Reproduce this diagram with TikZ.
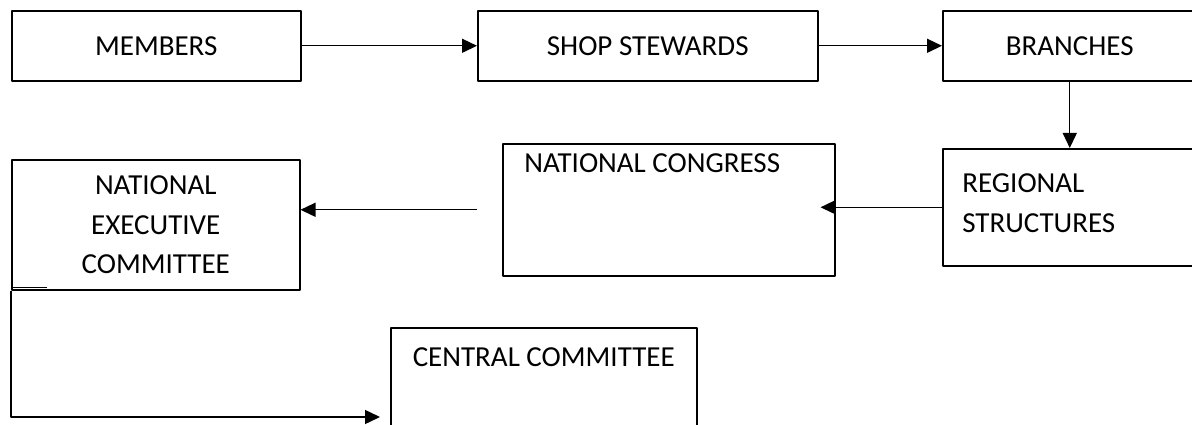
\documentclass[tikz,border=0pt]{standalone}
\usepackage{fontspec}
\setmainfont{Carlito}
\usetikzlibrary{arrows.meta}
\tikzset{
	box/.style={draw,line width=0.9pt,inner sep=0pt,anchor=north west,align=center,font=\fontsize{16.5pt}{22.5pt}\selectfont},
	tag/.style={inner sep=0pt,align=left,font=\fontsize{16.5pt}{22.5pt}\selectfont}
}
\begin{document}
\begin{tikzpicture}[x=0.02cm,y=-0.02cm,>={Triangle[length=0.3cm,width=0.28cm]},line join=round]
	\useasboundingbox (0,0) rectangle (1192,425);
	\clip (0,0) rectangle (1192,425);
	% boxes
	\node[box,minimum width=5.78cm,minimum height=1.4cm] (members) at (11,10) {MEMBERS};
	\node[box,minimum width=6.8cm,minimum height=1.4cm] (stewards) at (477,10) {SHOP STEWARDS};
	\node[box,minimum width=5.08cm,minimum height=1.4cm] (branches) at (942,10) {BRANCHES};
	\node[box,minimum width=5.08cm,minimum height=2.34cm,label={[tag,anchor=north west,xshift=0.4cm,yshift=-0.51cm]north west:REGIONAL\\STRUCTURES}] (regional) at (942,148) {};
	\node[box,minimum width=6.64cm,minimum height=2.64cm,label={[tag,anchor=north west,xshift=0.44cm,yshift=-0.21cm]north west:NATIONAL CONGRESS}] (nc) at (502,143) {};
	\node[box,minimum width=5.76cm,minimum height=2.6cm] (nec) at (11,159) {NATIONAL\\EXECUTIVE\\COMMITTEE};
	\node[box,minimum width=6.12cm,minimum height=2.6cm,label={[tag,anchor=north,yshift=-0.41cm]north:CENTRAL COMMITTEE}] (cc) at (390,327) {};
	% arrows
	\draw[->,line width=0.8pt] (members) -- (stewards);
	\draw[->,line width=0.8pt] (stewards) -- (branches);
	\draw[->,line width=0.8pt] (branches) -- (regional);
	\draw[->,line width=0.8pt] (regional.west) -- ([xshift=-0.3cm]nc.east |- regional.west);
	\coordinate (gap) at ([xshift=-0.5cm]nc.west);
	\draw[->,line width=0.8pt] (gap) -- (gap -| nec.east);
	\draw[line width=0.8pt] ([yshift=0.06cm]nec.south west) -- ++(0.72cm,0);
	\coordinate (ccin) at (380,417);
	\draw[->,line width=0.8pt] (nec.south west) |- (ccin);
\end{tikzpicture}
\end{document}
